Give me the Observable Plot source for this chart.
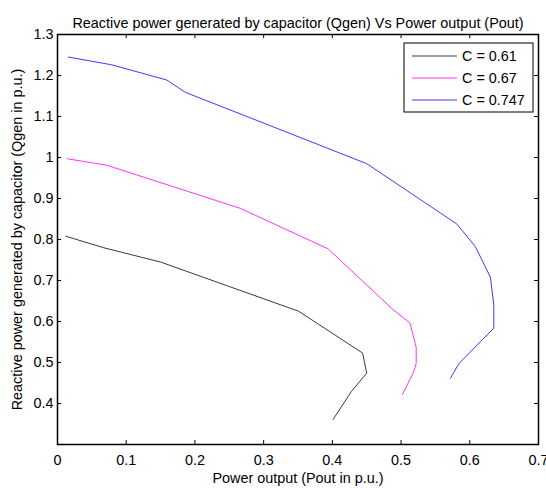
<!DOCTYPE html>
<html><head><meta charset="utf-8">
<script src="https://cdn.jsdelivr.net/npm/d3@7"></script>
<script src="https://cdn.jsdelivr.net/npm/@observablehq/plot@0.6"></script>
<style>
body{margin:0;background:#fff;}
#chart{width:546px;height:492px;}
</style>
</head><body><div id="chart"></div>
<script>
const titleText = "Reactive power generated by capacitor (Qgen) Vs Power output (Pout)";
const xLabel = "Power output (Pout in p.u.)";
const yLabel = "Reactive power generated by capacitor (Qgen in p.u.)";
const seriesLabels = ["C = 0.61", "C = 0.67", "C = 0.747"];
const seriesColors = ["#3a3a3a", "#ff33ff", "#3c3cff"];

const pout061 = [0.012, 0.067, 0.150, 0.351, 0.444, 0.450, 0.428, 0.401];
const qgen061 = [0.808, 0.780, 0.745, 0.625, 0.523, 0.474, 0.430, 0.361];

const pout067 = [0.014, 0.072, 0.266, 0.394, 0.487, 0.513, 0.522, 0.522, 0.518, 0.502];
const qgen067 = [0.997, 0.981, 0.876, 0.777, 0.631, 0.596, 0.537, 0.497, 0.476, 0.422];

const pout0747 = [0.016, 0.079, 0.159, 0.186, 0.450, 0.581, 0.608, 0.630, 0.635, 0.635, 0.584, 0.572];
const qgen0747 = [1.245, 1.226, 1.189, 1.159, 0.985, 0.838, 0.783, 0.708, 0.640, 0.584, 0.497, 0.462];

const xTicks = [0, 0.1, 0.2, 0.3, 0.4, 0.5, 0.6, 0.7];
const yTicks = [0.4, 0.5, 0.6, 0.7, 0.8, 0.9, 1.0, 1.1, 1.2, 1.3];

const seriesX = [pout061, pout067, pout0747];
const seriesY = [qgen061, qgen067, qgen0747];
const rows = [];
seriesLabels.forEach((s, i) => seriesX[i].forEach((p, j) => rows.push({s, p, q: seriesY[i][j]})));

const W = 546, H = 492, mL = 57, mR = 8, mT = 34, mB = 48;
const plotW = W - mL - mR, plotH = H - mT - mB;
const fmt = d => String(+d.toFixed(1));
const font = "'Liberation Sans', Arial, Helvetica, sans-serif";
const fs = 14.4;

const chart = Plot.plot({
  width: W, height: H,
  marginLeft: mL, marginRight: mR, marginTop: mT, marginBottom: mB,
  style: {fontFamily: font, fontSize: fs + "px", color: "#000", background: "#fff", overflow: "visible"},
  x: {domain: [0, 0.7]},
  y: {domain: [0.3, 1.3]},
  color: {domain: seriesLabels, range: seriesColors},
  marks: [
    Plot.line(rows, {x: "p", y: "q", z: "s", stroke: "s", strokeWidth: 1}),
    Plot.tickX(xTicks, {x: d => d, insetTop: plotH - 4, stroke: "#000", strokeWidth: 1}),
    Plot.tickX(xTicks, {x: d => d, insetBottom: plotH - 4, stroke: "#000", strokeWidth: 1}),
    Plot.tickY(yTicks, {y: d => d, insetRight: plotW - 4, stroke: "#000", strokeWidth: 1}),
    Plot.tickY(yTicks, {y: d => d, insetLeft: plotW - 4, stroke: "#000", strokeWidth: 1}),
    Plot.frame({stroke: "#000", strokeWidth: 1.5}),
    Plot.axisX({ticks: xTicks, tickSize: 0, tickPadding: 10, tickFormat: fmt, fontSize: fs,
      label: xLabel, labelAnchor: "center", labelOffset: 38, labelArrow: "none"}),
    Plot.axisY({ticks: yTicks, tickSize: 0, tickPadding: 4, tickFormat: fmt, fontSize: fs,
      label: yLabel, labelAnchor: "center", labelOffset: 46, labelArrow: "none"}),
    Plot.text([titleText], {text: d => d, frameAnchor: "top", dy: -17, fontSize: fs, fill: "#000"})
  ]
});

// legend (layout in pixels)
const svg = d3.select(chart);
const lg = svg.append("g");
const lx = 404, ly = 43, lw = 129, lh = 69;
lg.append("rect").attr("x", lx).attr("y", ly).attr("width", lw).attr("height", lh)
  .attr("fill", "#fff").attr("stroke", "#000").attr("stroke-width", 1);
seriesLabels.forEach((s, i) => {
  const yy = ly + 13 + i * 22;
  lg.append("line").attr("x1", lx + 8).attr("x2", lx + 53).attr("y1", yy).attr("y2", yy)
    .attr("stroke", seriesColors[i]).attr("stroke-width", 1);
  lg.append("text").attr("x", lx + 58).attr("y", yy + 5).attr("fill", "#000")
    .attr("text-anchor", "start")
    .style("font-family", font).style("font-size", fs + "px").text(s);
});

document.getElementById("chart").appendChild(chart);
</script>
</body></html>
